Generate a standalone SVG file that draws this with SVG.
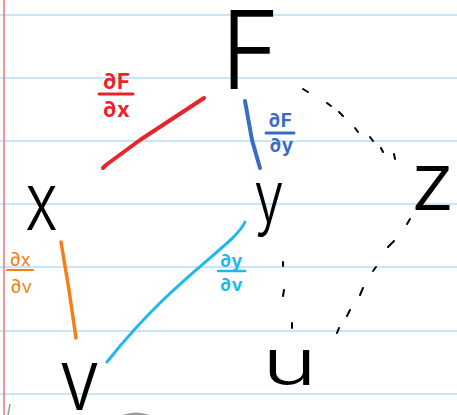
<svg xmlns="http://www.w3.org/2000/svg" width="457" height="415" viewBox="0 0 457 415">
<style>
.rule{stroke:#c9e6f7;stroke-width:2}
.var{font-family:Inter,"Liberation Sans",sans-serif;font-weight:300;fill:#000}
.lbl{font-family:Inter,"Liberation Sans",sans-serif;font-weight:700;text-anchor:middle}
.edge{fill:none;stroke-linecap:round;stroke-linejoin:round}
.dash{stroke:#000;stroke-width:2;stroke-linecap:round}
</style>
<rect width="457" height="415" fill="#fff"/>
<g id="paper">
<line class="rule" x1="0" y1="15" x2="457" y2="15"/>
<line class="rule" x1="0" y1="78" x2="457" y2="78"/>
<line class="rule" x1="0" y1="141" x2="457" y2="141"/>
<line class="rule" x1="0" y1="204" x2="457" y2="204"/>
<line class="rule" x1="0" y1="267" x2="457" y2="267"/>
<line class="rule" x1="0" y1="331" x2="457" y2="331"/>
<line class="rule" x1="0" y1="394" x2="457" y2="394"/>
<line x1="4" y1="0" x2="4" y2="415" stroke="#f2737b" stroke-width="1.5"/>
<path d="M8,415 L10,404" stroke="#999" stroke-width="1.5" fill="none"/>
<path d="M114,421 Q136,408 158,421" stroke="#9a9a9a" stroke-width="4" fill="none"/>
</g>
<g id="connectors">
<path class="edge" d="M204,98 L140,140 L106,165 L103,168" stroke="#e8232a" stroke-width="4"/>
<path class="edge" d="M245,101 L252,140 L260,168" stroke="#3a6cc6" stroke-width="4"/>
<path class="edge" d="M245,222 C234,246 175,276 107,362" stroke="#1fb8ec" stroke-width="3"/>
<path class="edge" d="M61,242 L69,290 L76,338" stroke="#f57f17" stroke-width="3.5"/>
<g id="dots-F-z">
<line class="dash" x1="303" y1="89" x2="308" y2="92"/>
<line class="dash" x1="327" y1="103" x2="331" y2="106"/>
<line class="dash" x1="339" y1="112" x2="343" y2="116"/>
<line class="dash" x1="355" y1="128" x2="358" y2="132"/>
<line class="dash" x1="370" y1="137" x2="373" y2="141"/>
<line class="dash" x1="381" y1="148" x2="383" y2="152"/>
<line class="dash" x1="394" y1="154" x2="395" y2="159"/>
</g>
<g id="dots-z-u">
<line class="dash" x1="410" y1="219" x2="407" y2="224"/>
<line class="dash" x1="394" y1="241" x2="388" y2="247"/>
<line class="dash" x1="376" y1="267" x2="373" y2="271"/>
<line class="dash" x1="363" y1="288" x2="360" y2="295"/>
<line class="dash" x1="350" y1="310" x2="347" y2="316"/>
<line class="dash" x1="339" y1="328" x2="337" y2="333"/>
</g>
<g id="dots-y-u">
<line class="dash" x1="283" y1="262" x2="283" y2="266"/>
<line class="dash" x1="284" y1="290" x2="283" y2="296"/>
<line class="dash" x1="292" y1="323" x2="292" y2="328"/>
</g>
</g>
<g id="label-dFdx">
<text class="lbl" x="116" y="89" font-size="22" fill="#e8232a">∂F</text>
<line x1="99" y1="94" x2="133" y2="94" stroke="#e8232a" stroke-width="3" stroke-linecap="round"/>
<text class="lbl" x="116" y="117" font-size="22" fill="#e8232a">∂x</text>
</g>
<g id="label-dFdy">
<text class="lbl" x="280" y="127" font-size="19" fill="#3a6cc6">∂F</text>
<line x1="266" y1="133" x2="294" y2="133" stroke="#3a6cc6" stroke-width="3" stroke-linecap="round"/>
<text class="lbl" x="281" y="152" font-size="19" fill="#3a6cc6">∂y</text>
</g>
<g id="label-dydv">
<text class="lbl" x="231" y="267" font-size="18" fill="#1fb8ec">∂y</text>
<line x1="218" y1="271" x2="245" y2="271" stroke="#1fb8ec" stroke-width="2.5" stroke-linecap="round"/>
<text class="lbl" x="231" y="291" font-size="18" fill="#1fb8ec">∂v</text>
</g>
<g id="label-dxdv">
<text x="20" y="266" font-size="18" fill="#f57f17" font-family="Inter,'Liberation Sans',sans-serif" font-weight="400" text-anchor="middle">∂x</text>
<line x1="7" y1="270" x2="33" y2="270" stroke="#f57f17" stroke-width="2" stroke-linecap="round"/>
<text x="21" y="293" font-size="18" fill="#f57f17" font-family="Inter,'Liberation Sans',sans-serif" font-weight="400" text-anchor="middle">∂v</text>
</g>
<g id="node-F"><text class="var" x="221" y="89" font-size="108" textLength="59" lengthAdjust="spacingAndGlyphs">F</text></g>
<g id="node-x"><text class="var" x="25" y="230" font-size="80" textLength="33" lengthAdjust="spacingAndGlyphs">x</text></g>
<g id="node-y"><text class="var" x="254" y="222" font-size="72" textLength="30" lengthAdjust="spacingAndGlyphs">y</text></g>
<g id="node-z"><text class="var" x="410" y="210" font-size="80" textLength="45" lengthAdjust="spacingAndGlyphs">z</text></g>
<g id="node-u"><text class="var" x="262" y="385" font-size="64" textLength="55" lengthAdjust="spacingAndGlyphs">u</text></g>
<g id="node-v"><text class="var" x="59" y="410" font-size="86" textLength="41" lengthAdjust="spacingAndGlyphs">v</text></g>
</svg>
